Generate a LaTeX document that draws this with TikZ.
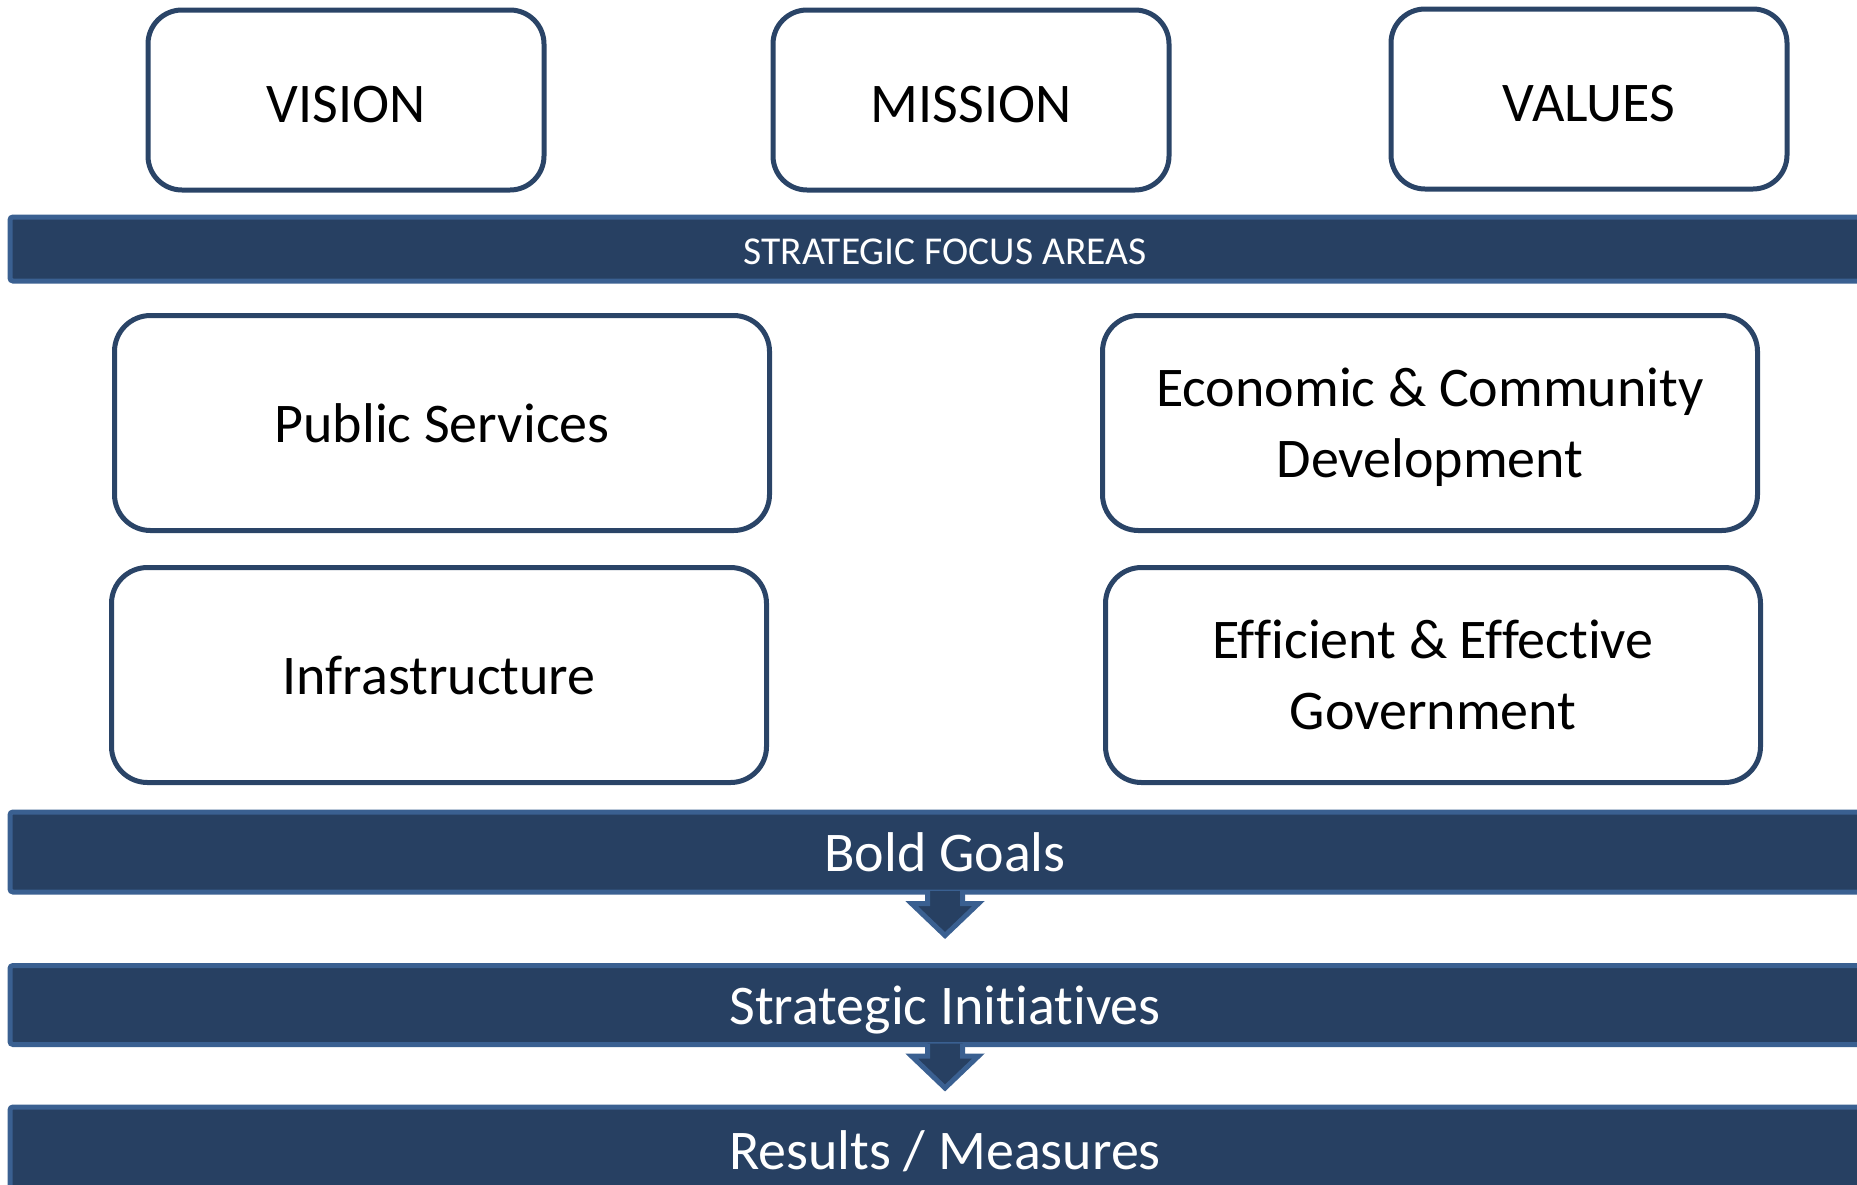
\documentclass[tikz,border=0pt]{standalone}
\usepackage{fontspec}
\setmainfont{Carlito}[Ligatures={NoCommon}]
\definecolor{navy}{HTML}{274062}
\definecolor{barline}{HTML}{3A6091}
\definecolor{boxline}{HTML}{2A4467}
\tikzset{
  topbox/.style={draw=boxline, line width=5pt, rounded corners=34pt, fill=white,
    minimum width=396pt, minimum height=180pt, inner sep=0pt, font=\fontsize{56}{67}\selectfont, text=black,
    text height=45pt, text depth=0pt},
  areabox/.style={draw=boxline, line width=5pt, rounded corners=36pt, fill=white,
    minimum width=655pt, minimum height=215pt, inner sep=0pt, align=center,
    font=\fontsize{56}{71}\selectfont, text=black},
  bar/.style={draw=barline, fill=navy, line width=5pt, rounded corners=3pt, inner sep=0pt,
    minimum width=1870pt, text=white},
  blockarrow/.style={draw=barline, fill=navy, line width=5pt, line join=miter},
}
\begin{document}
\begin{tikzpicture}[x=1pt,y=-1pt]
\useasboundingbox (0,0) rectangle (1857,1184);
% top boxes
\node[topbox] (vision)  at (346,100) {VISION};
\node[topbox] (mission) at (971,100) {MISSION};
\node[topbox] (values)  at (1589,99) {VALUES};
% focus bar
\node[bar, minimum height=64pt, font=\fontsize{39.5}{45}\selectfont, text height=30pt, text depth=0pt] (focus) at (945,249) {STRATEGIC FOCUS AREAS};
% area boxes
\node[areabox] (public) at (442,423) {Public Services};
\node[areabox, text depth=0pt] (econ)   at (1430,423) {Economic \& Community\\Development};
\node[areabox] (infra)  at (439,675) {Infrastructure};
\node[areabox] (effic)  at (1433,675) {Efficient \& Effective\\Government};
% bars
\node[bar, minimum height=80pt, font=\fontsize{56}{67}\selectfont] (bold) at (945,852) {Bold Goals};
\node[bar, minimum height=79pt, font=\fontsize{56}{67}\selectfont, text depth=0pt] (init) at (945,1005) {Strategic Initiatives};
\node[bar, minimum height=110pt] (results) at (945,1162) {};
\node[text=white, font=\fontsize{56}{67}\selectfont] (resultstext) at (945,1151) {Results / Measures};
% arrows
\begin{scope}[shift={(bold.south)}]
  \filldraw[blockarrow] (-17.5,-3.5) -- (-17.5,9) -- (-33.5,9) -- (0,41) -- (33.5,9) -- (17.5,9) -- (17.5,-3.5);
\end{scope}
\begin{scope}[shift={(init.south)}]
  \filldraw[blockarrow] (-17.5,-3.5) -- (-17.5,9) -- (-33.5,9) -- (0,41) -- (33.5,9) -- (17.5,9) -- (17.5,-3.5);
\end{scope}
\end{tikzpicture}
\end{document}
